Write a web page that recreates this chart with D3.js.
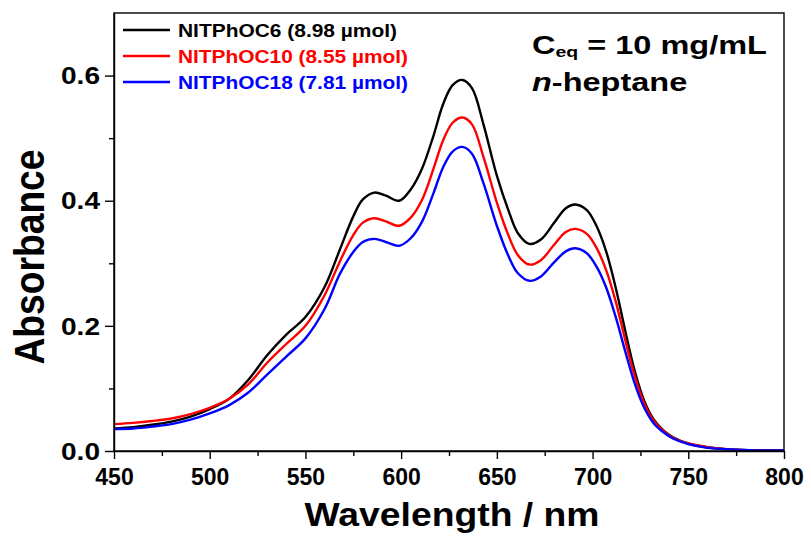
<!DOCTYPE html>
<html>
<head>
<meta charset="utf-8">
<script src="https://cdn.jsdelivr.net/npm/d3@7"></script>
<style>
  html, body { margin: 0; padding: 0; background: #fff; }
  svg { display: block; font-family: "Liberation Sans", Arial, sans-serif; }
</style>
</head>
<body>
<svg id="chart" width="811" height="547"></svg>
<script>
// UV-Vis absorption spectra of the three NITPhOC derivatives in n-heptane
const wavelengths = [450,460,470,480,490,500,510,520,530,540,550,560,568,575,580,586,592,599,605,611,617,622,627,632,637,643,650,656,661,667,673,680,686,691,697,702,707,712,717,722,727,732,737,742,750,760,770,785,800];
const absC6  = [0.036,0.038,0.042,0.047,0.055,0.067,0.083,0.113,0.153,0.186,0.214,0.262,0.322,0.375,0.402,0.413,0.408,0.400,0.418,0.452,0.505,0.555,0.585,0.593,0.580,0.522,0.440,0.385,0.348,0.331,0.338,0.365,0.388,0.394,0.385,0.360,0.320,0.262,0.193,0.128,0.080,0.050,0.033,0.022,0.012,0.006,0.003,0.001,0.001];
const absC10 = [0.043,0.045,0.048,0.052,0.059,0.069,0.083,0.106,0.141,0.171,0.200,0.249,0.303,0.345,0.365,0.372,0.367,0.360,0.373,0.402,0.452,0.497,0.525,0.533,0.522,0.470,0.397,0.345,0.313,0.298,0.305,0.330,0.350,0.355,0.347,0.325,0.290,0.240,0.178,0.120,0.076,0.048,0.032,0.021,0.012,0.006,0.003,0.001,0.001];
const absC18 = [0.035,0.036,0.039,0.043,0.050,0.060,0.073,0.093,0.122,0.151,0.180,0.227,0.283,0.318,0.334,0.339,0.334,0.328,0.340,0.367,0.413,0.454,0.479,0.486,0.475,0.428,0.360,0.312,0.284,0.272,0.279,0.302,0.319,0.324,0.316,0.295,0.262,0.215,0.160,0.108,0.069,0.044,0.030,0.020,0.011,0.005,0.003,0.001,0.001];

const seriesNames = ["NITPhOC6 (8.98 \u00b5mol)", "NITPhOC10 (8.55 \u00b5mol)", "NITPhOC18 (7.81 \u00b5mol)"];
const seriesColors = ["#000000", "#ff0000", "#0000ff"];
const xTicks = [450,500,550,600,650,700,750,800];
const yTicks = [0.0,0.2,0.4,0.6];

const seriesValues = [absC6, absC10, absC18];

const svg = d3.select("#chart");
const margin = {left: 114, right: 27, top: 13, bottom: 96};
const W = 811, H = 547;
const plotW = W - margin.left - margin.right;
const plotH = H - margin.top - margin.bottom;

const x = d3.scaleLinear().domain([450, 800]).range([margin.left, margin.left + plotW]);
const y = d3.scaleLinear().domain([0, 0.7]).range([margin.top + plotH, margin.top]);

// spectra
const line = d3.line()
  .x(d => x(d[0]))
  .y(d => y(d[1]))
  .curve(d3.curveCatmullRom.alpha(0.5));

const plot = svg.append("g");
seriesValues.forEach((vals, i) => {
  const pts = wavelengths.map((w, j) => [w, vals[j]]);
  plot.append("path")
    .datum(pts)
    .attr("fill", "none")
    .attr("stroke", seriesColors[i])
    .attr("stroke-width", 2.4)
    .attr("stroke-linejoin", "round")
    .attr("d", line);
});

// frame
svg.append("rect")
  .attr("x", margin.left).attr("y", margin.top)
  .attr("width", plotW).attr("height", plotH)
  .attr("fill", "none").attr("stroke", "#000").attr("stroke-width", 1.4);

// axes with major and minor ticks
const xAxis = d3.axisBottom(x).tickValues(xTicks).tickSize(8).tickSizeOuter(0).tickPadding(4).tickFormat(d3.format("d"));
const xMinor = d3.axisBottom(x).tickValues(d3.range(475, 800, 50)).tickSize(5).tickSizeOuter(0).tickFormat("");
const gx = svg.append("g").attr("transform", `translate(0,${margin.top + plotH})`);
gx.call(xAxis);
svg.append("g").attr("transform", `translate(0,${margin.top + plotH})`).call(xMinor)
  .call(g => g.select(".domain").remove());

const yAxis = d3.axisLeft(y).tickValues(yTicks).tickSize(9).tickSizeOuter(0).tickPadding(5).tickFormat(d3.format(".1f"));
const yMinor = d3.axisLeft(y).tickValues([0.1,0.3,0.5]).tickSize(5).tickSizeOuter(0).tickFormat("");
const gy = svg.append("g").attr("transform", `translate(${margin.left},0)`);
gy.call(yAxis);
svg.append("g").attr("transform", `translate(${margin.left},0)`).call(yMinor)
  .call(g => g.select(".domain").remove());

svg.selectAll(".tick line").attr("stroke", "#000").attr("stroke-width", 1.4);
svg.selectAll(".domain").attr("stroke", "#000").attr("stroke-width", 1.4);
svg.selectAll(".tick text")
  .attr("font-family", "'Liberation Sans', Arial, sans-serif")
  .attr("font-weight", "bold")
  .attr("font-size", 23)
  .attr("fill", "#000");
gx.selectAll(".tick text").attr("dy", "0.95em");
gy.selectAll(".tick text").attr("dy", "0.36em")
  .attr("textLength", 39).attr("lengthAdjust", "spacingAndGlyphs");

// axis titles
svg.append("text")
  .attr("x", 452).attr("y", 526)
  .attr("text-anchor", "middle")
  .attr("font-weight", "bold").attr("font-size", 34)
  .attr("textLength", 295).attr("lengthAdjust", "spacingAndGlyphs")
  .text("Wavelength / nm");

svg.append("text")
  .attr("transform", "translate(44,257) rotate(-90) scale(1,1.22)")
  .attr("text-anchor", "middle")
  .attr("font-weight", "bold").attr("font-size", 35)
  .attr("textLength", 215).attr("lengthAdjust", "spacingAndGlyphs")
  .text("Absorbance");

// legend
const legend = svg.append("g");
const legendWidths = [219, 230, 230];
seriesNames.forEach((name, i) => {
  const ly = 30 + i * 26;
  legend.append("line")
    .attr("x1", 123).attr("x2", 170)
    .attr("y1", ly).attr("y2", ly)
    .attr("stroke", seriesColors[i]).attr("stroke-width", 2.4);
  legend.append("text")
    .attr("x", 178).attr("y", ly + 7)
    .attr("font-weight", "bold").attr("font-size", 18)
    .attr("fill", seriesColors[i])
    .attr("textLength", legendWidths[i]).attr("lengthAdjust", "spacingAndGlyphs")
    .text(name);
});

// measurement conditions
const note = svg.append("g").attr("font-weight", "bold").attr("fill", "#000");
const t1 = note.append("g").attr("transform", "translate(532,54) scale(1.3,1)")
  .append("text").attr("font-size", 25);
t1.append("tspan").text("C");
t1.append("tspan").attr("font-size", 15).attr("dy", 3).text("eq");
t1.append("tspan").attr("dy", -3).text(" = 10 mg/mL");
const t2 = note.append("g").attr("transform", "translate(532,91) scale(1.3,1)")
  .append("text").attr("font-size", 25);
t2.append("tspan").attr("font-style", "italic").text("n");
t2.append("tspan").text("-heptane");
</script>
</body>
</html>
